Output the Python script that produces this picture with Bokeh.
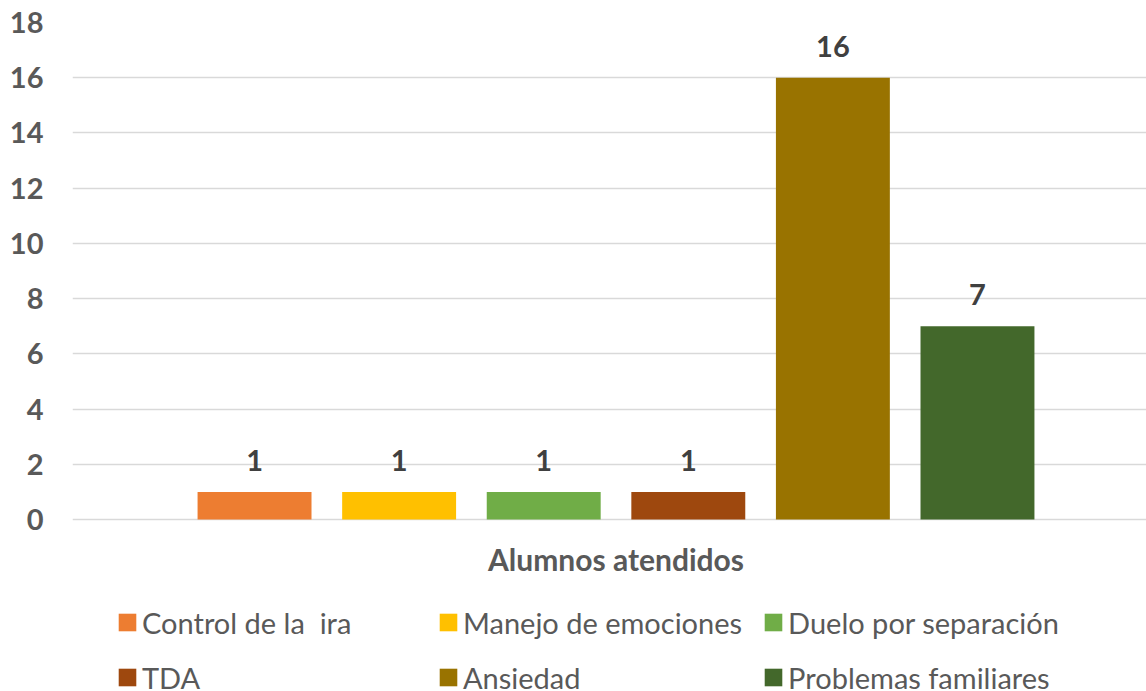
from bokeh.plotting import figure
from bokeh.models import (ColumnDataSource, Range1d, FixedTicker, Legend, LegendItem,
                          LabelSet, Label)
from bokeh.core.properties import value
from bokeh.embed import file_html
from bokeh.resources import INLINE

series = ["Control de la  ira", "Manejo de emociones", "Duelo por separación",
          "TDA", "Ansiedad", "Problemas familiares"]
values = [1, 1, 1, 1, 16, 7]
colors = ["#ED7D31", "#FFC000", "#70AD47", "#9E480E", "#997300", "#43682B"]
category = "Alumnos atendidos"
y_ticks = [0, 2, 4, 6, 8, 10, 12, 14, 16, 18]

FONT = "Lato"

# the frame reaches down to the bottom of the picture so that the legend,
# which lies below the bars, is drawn inside it
p = figure(width=1146, height=691, output_backend="svg", toolbar_location=None,
           x_axis_location=None,
           x_range=Range1d(-1.259, 6.169), y_range=Range1d(-6.229, 18),
           min_border_left=72, min_border_right=0, min_border_top=22, min_border_bottom=0)
p.outline_line_color = None
p.background_fill_color = "white"
p.border_fill_color = "white"

xs = list(range(len(series)))
src = ColumnDataSource(dict(x=xs, top=values, label=[str(v) for v in values]))

items = []
for i, name in enumerate(series):
    s = ColumnDataSource(dict(x=[xs[i]], top=[values[i]]))
    r = p.vbar(x="x", top="top", bottom=0, width=0.788, source=s,
               fill_color=colors[i], line_color=None)
    items.append(LegendItem(label=name, renderers=[r]))

# legend shows 3 columns x 2 rows, filled row by row
ncol = 3
ordered = [items[r * ncol + c] for c in range(ncol) for r in range(len(items) // ncol)]

labels = LabelSet(x="x", y="top", text="label", source=src, y_offset=21,
                  text_align="center", text_baseline="alphabetic",
                  text_font=value(FONT), text_font_style="bold", text_font_size="29px",
                  text_color="#404040")
p.add_layout(labels)

cat_label = Label(x=(xs[0] + xs[-1]) / 2, y=0, y_offset=-39, text=category,
                  text_align="center", text_baseline="middle",
                  text_font=FONT, text_font_style="bold", text_font_size="30px",
                  text_color="#595959")
p.add_layout(cat_label)

# y axis
ya = p.yaxis[0]
ya.ticker = FixedTicker(ticks=y_ticks)
ya.axis_line_color = None
ya.major_tick_line_color = None
ya.minor_tick_line_color = None
ya.major_label_standoff = 23
ya.major_label_text_font = FONT
ya.major_label_text_font_style = "bold"
ya.major_label_text_font_size = "29px"
ya.major_label_text_color = "#595959"

p.xgrid.grid_line_color = None
p.ygrid.ticker = FixedTicker(ticks=y_ticks)
p.ygrid.grid_line_color = "#D9D9D9"
p.ygrid.grid_line_width = 1.3

legend = Legend(items=ordered, orientation="vertical", nrows=2,
                location=(44, -3.5), padding=0, margin=0,
                glyph_width=22, glyph_height=22, label_standoff=4,
                label_width=275, spacing=20,
                label_text_font=FONT, label_text_font_size="29px",
                label_text_color="#595959",
                border_line_color=None, background_fill_alpha=0)
p.add_layout(legend, "center")

open("out.html", "w").write(file_html(p, INLINE))
